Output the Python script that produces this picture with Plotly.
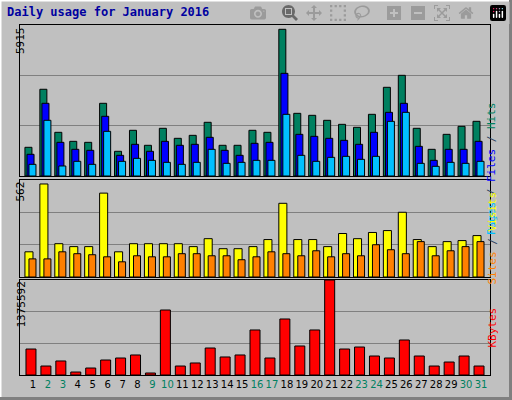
import plotly.graph_objects as go

days = list(range(1, 32))
hits = [1124, 3397, 1711, 1358, 1319, 2848, 967, 1790, 1202, 1868, 1476, 1593, 2103, 1202, 1202, 1790,
        1711, 5746, 2455, 2377, 2181, 2024, 1907, 2416, 3474, 3944, 1868, 1045, 1632, 1946, 2142]
files = [850, 2848, 1319, 1045, 1006, 2338, 810, 1241, 967, 1358, 1202, 1241, 1515, 1006, 810, 1280,
         1319, 4022, 1632, 1554, 1476, 1397, 1241, 1711, 2494, 2847, 1162, 614, 1045, 1045, 1358]
pages = [457, 2182, 392, 575, 457, 1750, 575, 692, 614, 535, 457, 535, 1045, 496, 535, 614,
         614, 2416, 810, 575, 731, 770, 653, 770, 2142, 2494, 496, 379, 535, 496, 575]
sites = [146, 539, 193, 176, 176, 486, 146, 193, 193, 193, 193, 176, 222, 164, 164, 176,
         217, 427, 217, 217, 176, 252, 222, 258, 269, 375, 217, 176, 205, 211, 240]
visits = [105, 105, 146, 135, 129, 117, 88, 123, 117, 117, 135, 135, 123, 123, 100, 117,
          146, 135, 123, 152, 117, 135, 123, 187, 158, 135, 205, 123, 152, 176, 205]
kbytes = [376000, 130000, 203000, 43000, 101000, 217000, 246000, 290000, 29000, 941000, 130000,
          174000, 391000, 261000, 290000, 652000, 246000, 811000, 420000, 652000, 1375592, 376000,
          405000, 275000, 246000, 507000, 275000, 130000, 188000, 275000, 130000]
weekend = [2, 3, 9, 10, 16, 17, 23, 24, 30, 31]
max_hits, max_sites, max_kb = 5915, 562, 1375592

fig = go.Figure()
line = dict(color="black", width=1)
fig.add_trace(go.Bar(x=days, y=hits, offset=-0.54, width=0.47, marker=dict(color="#008060", line=line)))
fig.add_trace(go.Bar(x=days, y=files, offset=-0.40, width=0.47, marker=dict(color="#0000FF", line=line)))
fig.add_trace(go.Bar(x=days, y=pages, offset=-0.27, width=0.47, marker=dict(color="#00C0FF", line=line)))
fig.add_trace(go.Bar(x=days, y=sites, offset=-0.54, width=0.54, xaxis="x2", yaxis="y2",
                     marker=dict(color="#FFFF00", line=line)))
fig.add_trace(go.Bar(x=days, y=visits, offset=-0.27, width=0.47, xaxis="x2", yaxis="y2",
                     marker=dict(color="#FF8000", line=line)))
fig.add_trace(go.Bar(x=days, y=kbytes, offset=-0.47, width=0.67, xaxis="x3", yaxis="y3",
                     marker=dict(color="#FF0000", line=line)))

dom_x = [20 / 512, 490 / 512]
xr = [0.13, 31.6]
ticktext = ["<span style='color:#008060'>%d</span>" % d if d in weekend else str(d) for d in days]


def xax(anchor, labels):
    return dict(domain=dom_x, range=xr, anchor=anchor, showgrid=False, zeroline=False,
                showline=True, linecolor="black", mirror=True, ticks="", tickangle=0,
                tickvals=days if labels else [], ticktext=ticktext if labels else None,
                tickfont=dict(family="DejaVu Sans", size=10, color="black"))


def yax(dom, top, anchor):
    return dict(domain=dom, range=[0, top], anchor=anchor, tickvals=[top / 3, 2 * top / 3],
                showticklabels=False, gridcolor="#808080", gridwidth=1, zeroline=False,
                showline=True, linecolor="black", mirror=True, ticks="")


fig.update_layout(
    width=512, height=400, margin=dict(l=0, r=0, t=0, b=0), showlegend=False,
    paper_bgcolor="#C0C0C0", plot_bgcolor="#C0C0C0", barmode="overlay",
    xaxis=xax("y", False), xaxis2=xax("y2", False), xaxis3=xax("y3", True),
    yaxis=yax([1 - 176 / 400, 1 - 25 / 400], max_hits, "x"),
    yaxis2=yax([1 - 277 / 400, 1 - 180 / 400], max_sites, "x2"),
    yaxis3=yax([1 - 375 / 400, 1 - 280 / 400], max_kb, "x3"),
)

mono = "DejaVu Sans Mono"
ann = [
    dict(x=5 / 512, y=1 - 12 / 400, text="<b>Daily usage for January 2016</b>", xanchor="left",
         yanchor="middle", font=dict(family=mono, size=12, color="#0000A0")),
    dict(x=12 / 512, y=1 - 25 / 400, text=str(max_hits), textangle=-90, yanchor="top",
         font=dict(family=mono, size=11, color="black")),
    dict(x=12 / 512, y=1 - 180 / 400, text=str(max_sites), textangle=-90, yanchor="top",
         font=dict(family=mono, size=11, color="black")),
    dict(x=12 / 512, y=1 - 280 / 400, text=str(max_kb), textangle=-90, yanchor="top",
         font=dict(family=mono, size=11, color="black")),
    dict(x=500 / 512, y=1 - 100 / 400, textangle=-90, font=dict(family=mono, size=11),
         text="<span style='color:#00C0FF'>Pages</span> / <span style='color:#0000FF'>Files</span>"
              " / <span style='color:#008060'>Hits</span>"),
    dict(x=500 / 512, y=1 - 238 / 400, textangle=-90, font=dict(family=mono, size=11),
         text="<span style='color:#FF8000'>Sites</span> / <span style='color:#FFFF00'>Visits</span>"),
    dict(x=500 / 512, y=1 - 350 / 400, textangle=-90, font=dict(family=mono, size=11, color="#FF0000"),
         text="KBytes"),
]
for a in ann:
    a.update(xref="paper", yref="paper", showarrow=False)
fig.update_layout(annotations=ann)

fig.update_layout(shapes=[
    dict(type="rect", xref="paper", yref="paper", x0=0, y0=0, x1=1, y1=1,
         line=dict(color="white", width=3)),
    dict(type="line", xref="paper", yref="paper", x0=1, y0=0, x1=1, y1=1,
         line=dict(color="#808080", width=6)),
    dict(type="line", xref="paper", yref="paper", x0=0, y0=0, x1=1, y1=0,
         line=dict(color="#808080", width=6)),
])

fig.write_html("out.html", post_script="document.body.style.margin='0';")
